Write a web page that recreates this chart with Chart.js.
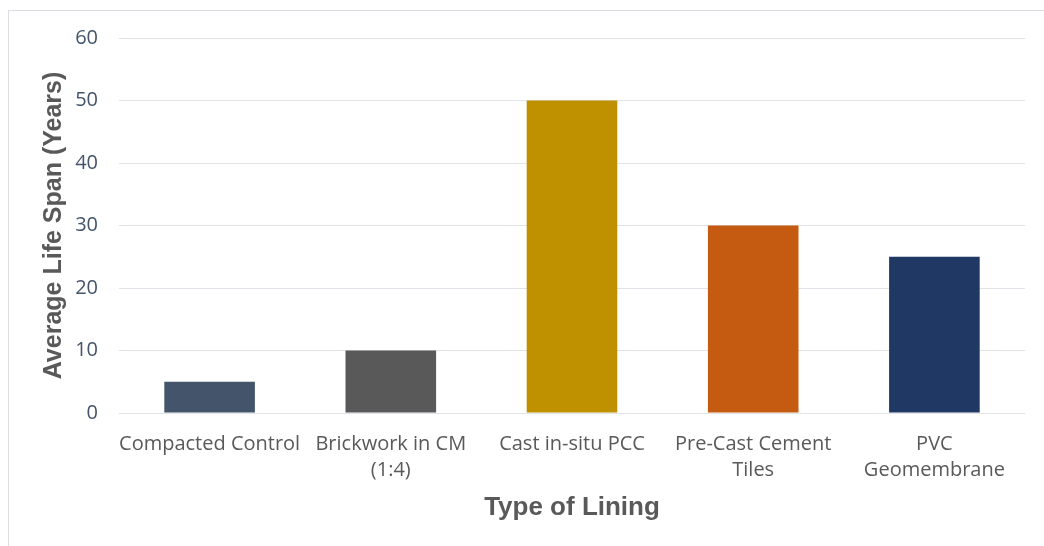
<!DOCTYPE html>
<html>
<head>
<meta charset="utf-8">
<script src="https://cdn.jsdelivr.net/npm/chart.js@4/dist/chart.umd.min.js"></script>
<style>
  html, body { margin: 0; padding: 0; background: #ffffff; }
  #wrap { position: relative; width: 1044px; height: 546px; }
</style>
</head>
<body>
<div id="wrap"><canvas id="chart" width="1044" height="546"></canvas></div>
<script>
// Lining types (multi-line labels as drawn under each bar)
const categories = [
  ['Compacted Control'],
  ['Brickwork in CM', '(1:4)'],
  ['Cast in-situ PCC'],
  ['Pre-Cast Cement', 'Tiles'],
  ['PVC', 'Geomembrane']
];
// Average life span in years for each lining type
const lifeSpanYears = [5, 10, 50, 30, 25];
const barColors = ['#44546A', '#595959', '#BF9000', '#C55A11', '#203864'];
const yTicks = [0, 10, 20, 30, 40, 50, 60];

// Thin light frame around the chart, open on the right and bottom
const framePlugin = {
  id: 'frame',
  beforeDraw(chart) {
    const ctx = chart.ctx;
    ctx.save();
    ctx.fillStyle = '#ffffff';
    ctx.fillRect(0, 0, chart.width, chart.height);
    ctx.strokeStyle = '#d9dce1';
    ctx.lineWidth = 1;
    ctx.strokeRect(8.5, 10.5, 2000, 2000);
    ctx.restore();
  }
};

new Chart(document.getElementById('chart'), {
  type: 'bar',
  data: {
    labels: categories,
    datasets: [{
      data: lifeSpanYears,
      backgroundColor: barColors,
      borderWidth: 0,
      categoryPercentage: 1.0,
      barPercentage: 0.5
    }]
  },
  options: {
    responsive: false,
    animation: false,
    layout: { padding: { left: 0, top: 38, right: 19, bottom: 0 } },
    plugins: {
      legend: { display: false },
      tooltip: { enabled: false }
    },
    scales: {
      x: {
        grid: { display: false, drawTicks: false },
        border: { display: false },
        ticks: {
          color: '#595959',
          font: { family: '"Open Sans"', size: 20, lineHeight: 1.3 },
          padding: 18,
          maxRotation: 0,
          autoSkip: false
        },
        title: {
          display: true,
          text: 'Type of Lining',
          color: '#595959',
          font: { family: '"Liberation Sans", Arial', size: 26, weight: 'bold', lineHeight: 1.2 },
          padding: { top: 0, bottom: 23 }
        },
        afterFit(scale) { scale.height = 133; }
      },
      y: {
        min: 0,
        max: 60,
        afterBuildTicks(scale) { scale.ticks = yTicks.map(v => ({ value: v })); },
        grid: { color: '#e0e3e8', lineWidth: 1, drawTicks: false },
        border: { display: false },
        ticks: {
          color: '#44546A',
          font: { family: '"Open Sans"', size: 20 },
          padding: 21
        },
        title: {
          display: true,
          text: 'Average Life Span (Years)',
          color: '#595959',
          font: { family: '"Liberation Sans", Arial', size: 25, weight: 'bold', lineHeight: 1.2 },
          padding: { top: 39, bottom: 0 }
        },
        afterFit(scale) { scale.width = 119; }
      }
    }
  },
  plugins: [framePlugin]
});
</script>
</body>
</html>
